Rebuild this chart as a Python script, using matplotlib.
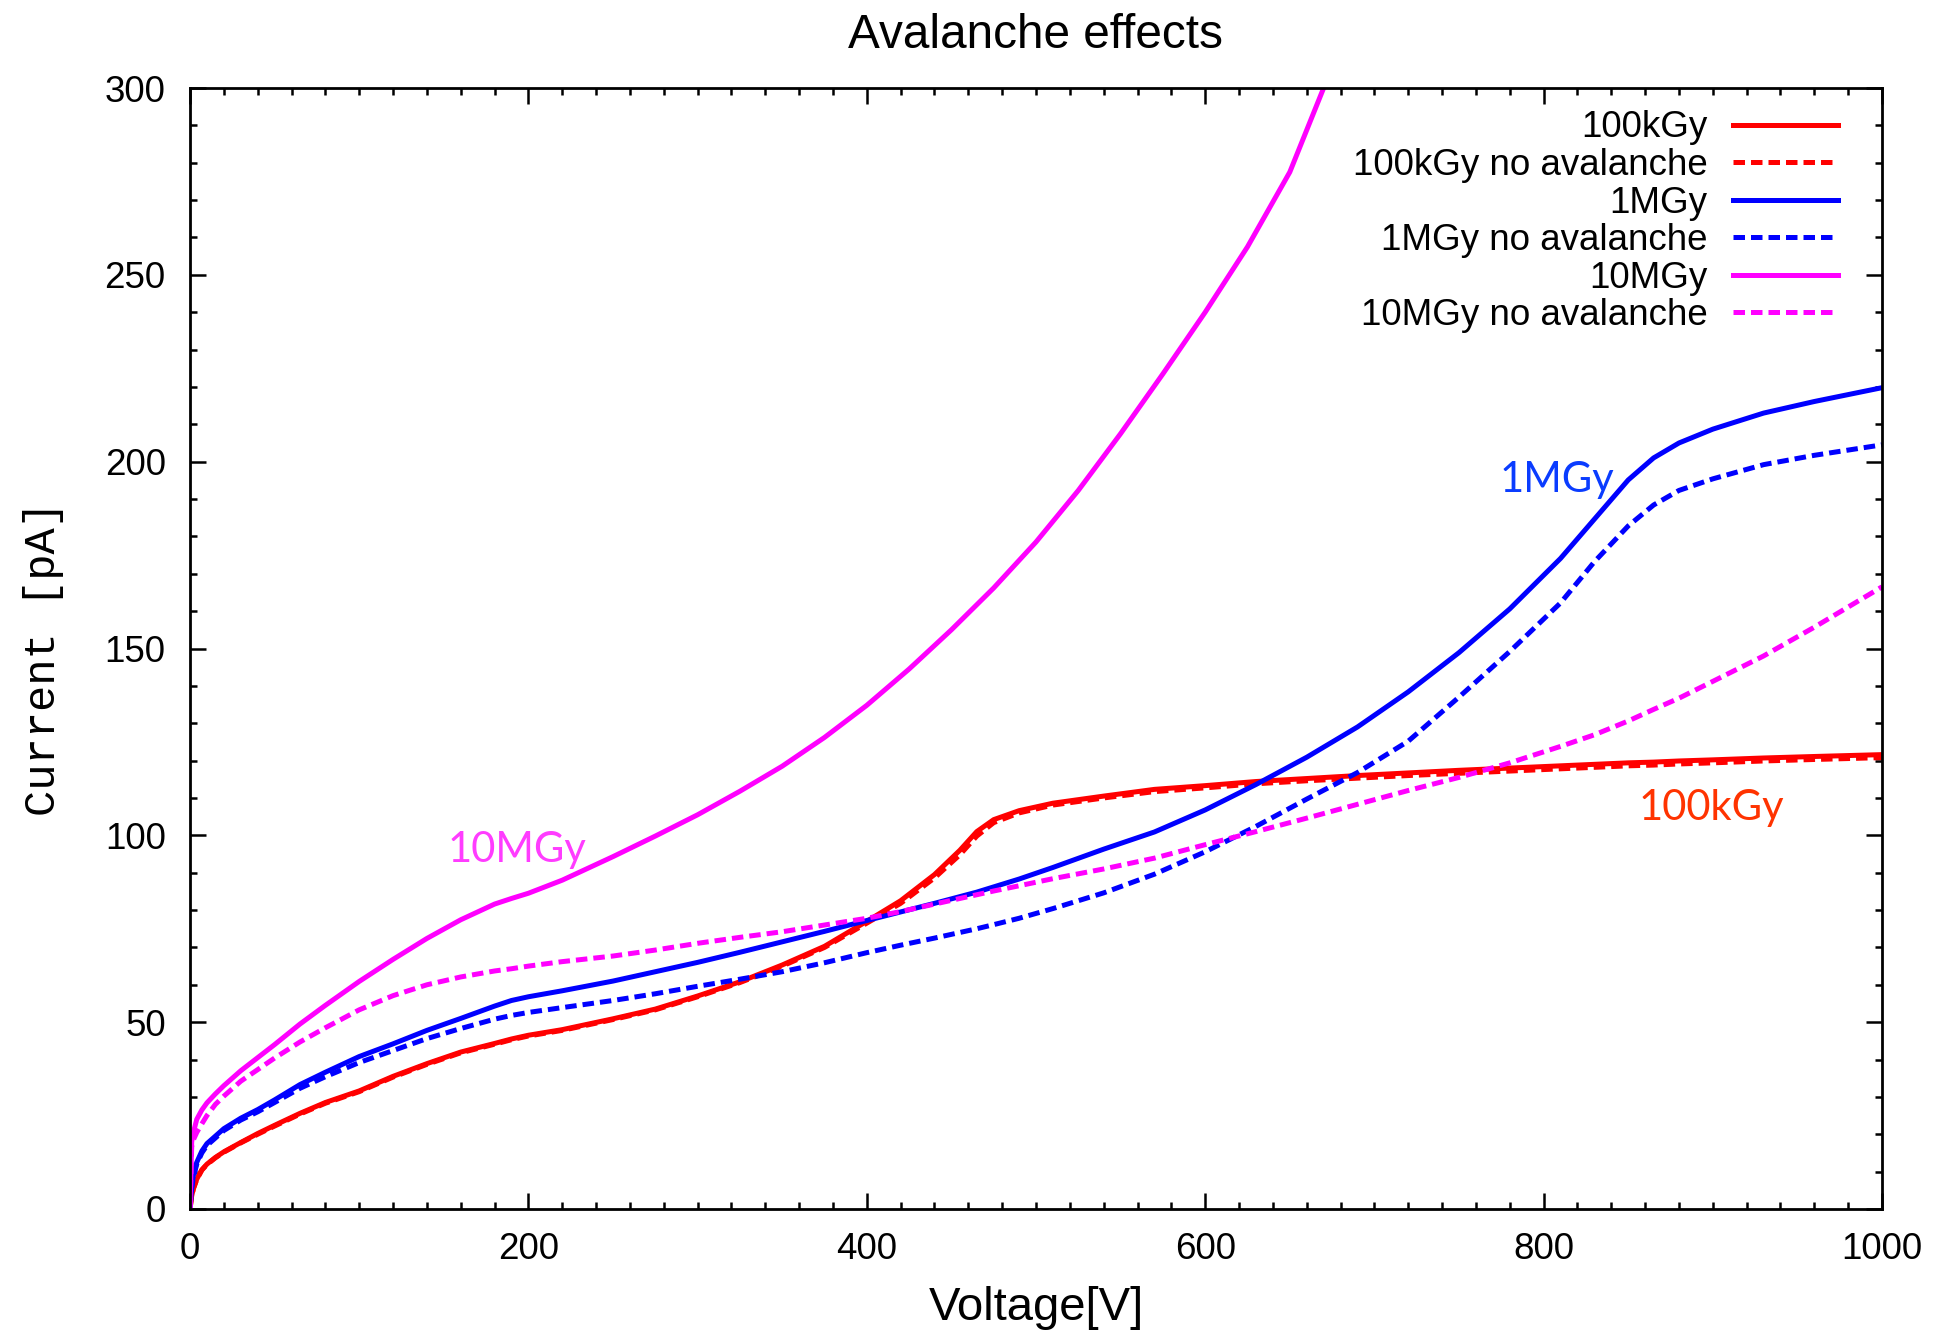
import numpy as np
import matplotlib.pyplot as plt
from matplotlib.ticker import MultipleLocator

# voltage grid (V) shared by most curves
volt = [0, 1, 2, 4, 7, 10, 15, 20, 30, 40, 50, 65, 80, 100, 120, 140, 160, 180, 190, 200,
        220, 250, 275, 300, 325, 350, 375, 400, 420, 440, 455, 465, 475, 490, 510, 540, 570,
        600, 630, 660, 690, 720, 750, 780, 810, 830, 850, 865, 880, 900, 930, 960, 1000]

# currents in pA
cur_100k = [0, 3.5, 5.5, 8, 10.5, 12, 13.8, 15.3, 17.8, 20.2, 22.4, 25.6, 28.5, 31.6, 35.5,
            38.9, 42.0, 44.3, 45.5, 46.5, 48.0, 50.9, 53.5, 57.0, 60.8, 65.3, 70.3, 77.0,
            82.5, 89.5, 96.0, 101.0, 104.2, 106.6, 108.6, 110.5, 112.3, 113.3, 114.4, 115.2,
            116.0, 116.7, 117.4, 118.0, 118.6, 119.0, 119.4, 119.6, 119.9, 120.2, 120.7,
            121.1, 121.6]
cur_100k_noav = [0, 3.4, 5.4, 7.9, 10.4, 11.9, 13.7, 15.2, 17.7, 20.0, 22.2, 25.4, 28.3,
                 31.4, 35.3, 38.7, 41.8, 44.1, 45.3, 46.3, 47.8, 50.7, 53.3, 56.8, 60.6,
                 65.0, 70.0, 76.5, 81.8, 88.6, 94.8, 99.8, 103.4, 106.0, 108.1, 110.0, 111.7,
                 112.7, 113.8, 114.6, 115.3, 116.0, 116.6, 117.2, 117.8, 118.2, 118.6, 118.8,
                 119.1, 119.4, 119.9, 120.3, 120.8]
cur_1M = [0, 6, 9, 12.5, 15.5, 17.5, 19.5, 21.5, 24.3, 26.6, 29.2, 33.3, 36.6, 40.8, 44.2,
          47.8, 51.0, 54.3, 55.8, 56.8, 58.4, 61.0, 63.5, 66.0, 68.7, 71.5, 74.3, 77.2, 79.5,
          81.8, 83.6, 84.8, 86.2, 88.3, 91.4, 96.3, 100.9, 106.8, 113.6, 120.9, 129.0, 138.4,
          148.9, 160.6, 174.1, 184.6, 195.1, 201.0, 205.0, 208.7, 213.0, 216.1, 219.8]
cur_1M_noav = [0, 5.5, 8.5, 12, 15, 17, 19, 21, 23.8, 26.0, 28.5, 32.3, 35.4, 39.2, 42.4,
               45.6, 48.3, 50.8, 51.8, 52.6, 53.9, 55.8, 57.6, 59.6, 61.5, 63.5, 65.9, 68.6,
               70.6, 72.5, 74.0, 75.0, 76.1, 77.8, 80.4, 84.6, 89.6, 95.6, 102.4, 109.7, 116.8,
               125.2, 137.0, 149.2, 162.2, 173.2, 182.8, 188.4, 192.3, 195.4, 199.2, 201.7,
               204.5]
cur_10M_noav = [0, 16.7, 18.5, 20.5, 22.8, 25, 28.0, 30.2, 34.2, 37.3, 40.4, 44.7, 48.5,
                53.3, 57.1, 60.0, 62.1, 63.7, 64.3, 65.0, 66.2, 67.7, 69.3, 71.1, 72.7, 74.2,
                76.0, 77.8, 79.6, 81.6, 83.1, 84.1, 85.1, 86.5, 88.4, 91.0, 93.9, 97.5, 101.0,
                104.6, 108.3, 112.0, 115.5, 119.4, 123.8, 126.9, 130.6, 133.7, 136.7, 141.2,
                148.0, 155.7, 166.5]

# 10MGy with avalanche leaves the plot near 670 V
volt_10M = [0, 1, 2, 4, 7, 10, 15, 20, 30, 40, 50, 65, 80, 100, 120, 140, 160, 180, 190, 200,
            220, 250, 275, 300, 325, 350, 375, 400, 425, 450, 475, 500, 525, 550, 575, 600,
            625, 650, 670]
cur_10M = [0, 18, 20.5, 24, 26.5, 28.4, 30.8, 33, 37, 40.5, 44, 49.5, 54.5, 60.9, 66.8, 72.4,
           77.4, 81.6, 83.1, 84.5, 88.0, 94.3, 99.8, 105.5, 111.8, 118.5, 126.2, 134.8, 144.5,
           155.0, 166.2, 178.5, 192.3, 207.5, 223.5, 240.0, 257.5, 277.5, 300.0]

W, H = 1936, 1330
fig = plt.figure(figsize=(W/100, H/100), dpi=100)
ax = fig.add_axes([190/W, 121/H, 1692/W, 1121/H])

lw = 3.6
dash = (2.3, 1.2)
red, blue, mag = '#ff0000', '#0000ff', '#ff00ff'

ax.plot(volt, cur_100k, color=red, lw=lw, label='100kGy')
ax.plot(volt, cur_100k_noav, color=red, lw=lw, dashes=dash, label='100kGy no avalanche')
ax.plot(volt, cur_1M, color=blue, lw=lw, label='1MGy')
ax.plot(volt, cur_1M_noav, color=blue, lw=lw, dashes=dash, label='1MGy no avalanche')
ax.plot(volt_10M, cur_10M, color=mag, lw=lw, label='10MGy')
ax.plot(volt, cur_10M_noav, color=mag, lw=lw, dashes=dash, label='10MGy no avalanche')

ax.set_xlim(0, 1000)
ax.set_ylim(0, 300)
ax.xaxis.set_major_locator(MultipleLocator(200))
ax.xaxis.set_minor_locator(MultipleLocator(20))
ax.yaxis.set_major_locator(MultipleLocator(50))
ax.yaxis.set_minor_locator(MultipleLocator(10))

for s in ax.spines.values():
    s.set_linewidth(2.0)
ax.tick_params(which='both', direction='in', top=True, right=True, width=1.8)
ax.tick_params(which='major', length=11.3)
ax.tick_params(which='minor', length=5.3)
ax.tick_params(axis='x', pad=16.5)
ax.tick_params(axis='y', pad=17.5)
for lab in ax.get_xticklabels() + ax.get_yticklabels():
    lab.set_fontfamily('Liberation Sans')
    lab.set_fontsize(26.5)

ax.set_title('Avalanche effects', fontsize=34.4, family='Liberation Sans', pad=28.8)
ax.set_xlabel('Voltage[V]', fontsize=34, family='Liberation Sans', va='baseline')
ax.xaxis.set_label_coords(0.5, (1209 - 1320) / 1121)
ax.set_ylabel('Current [pA]', fontsize=31.5, family='Liberation Mono', va='center')
ax.yaxis.set_label_coords((44 - 190) / 1692, 0.4915)

leg = ax.legend(loc='upper right', bbox_to_anchor=(0.974, 0.980), frameon=False,
                markerfirst=False, prop={'family': 'Liberation Sans', 'size': 26.5},
                handlelength=2.86, handletextpad=0.68, labelspacing=0.07,
                borderaxespad=0, borderpad=0)

ax.text(152, 92.9, '10MGy', color='#ff3cff', fontsize=30, family='Lato', ha='left', va='baseline')
ax.text(774, 191.9, '1MGy', color='#0a3cff', fontsize=30, family='Lato', ha='left', va='baseline')
ax.text(856, 104.1, '100kGy', color='#ff3300', fontsize=30, family='Lato', ha='left', va='baseline')

fig.savefig('out.png', dpi=100)
